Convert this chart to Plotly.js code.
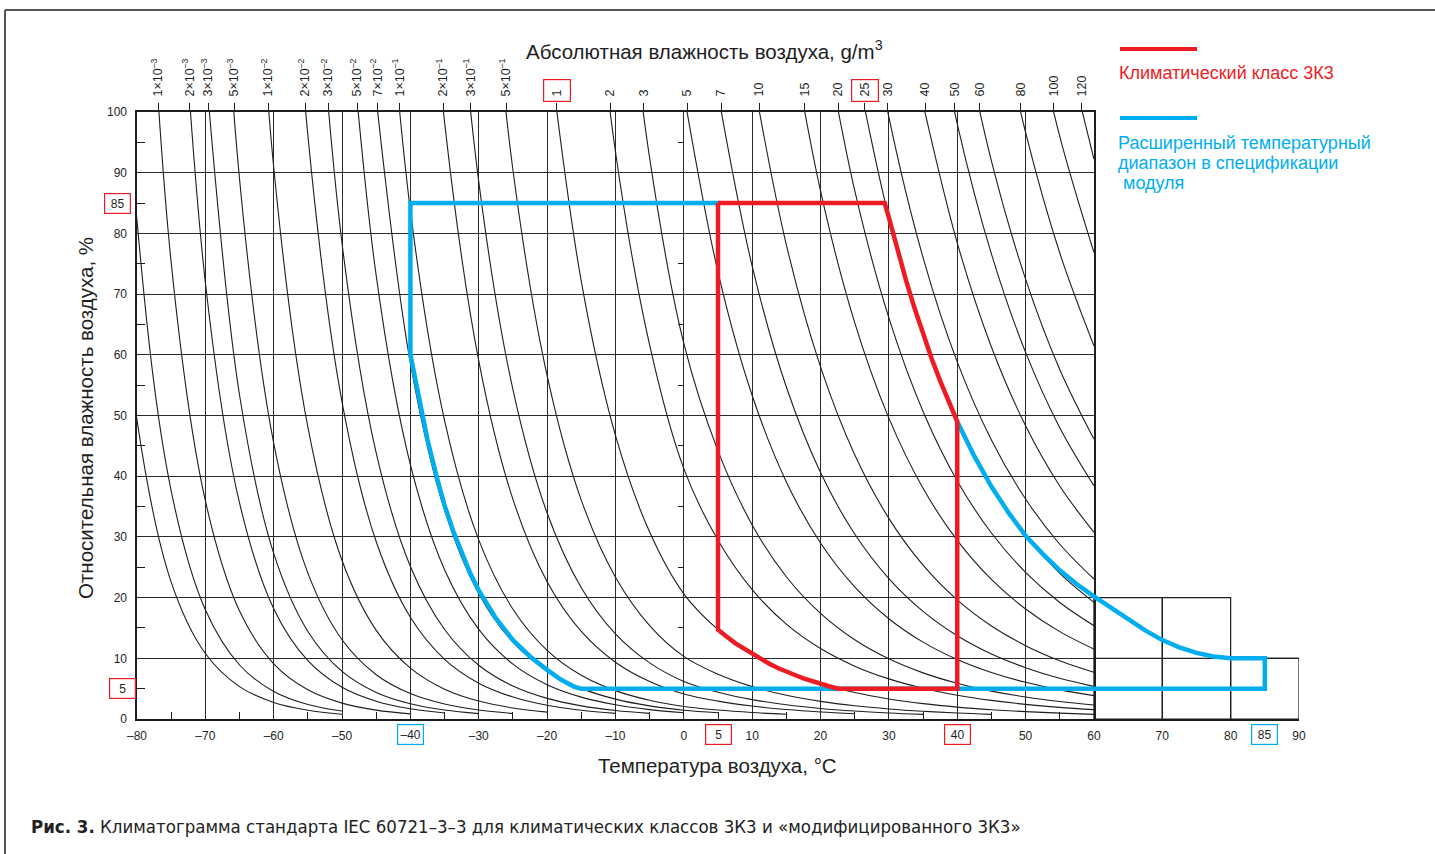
<!DOCTYPE html>
<html><head><meta charset="utf-8">
<script src="https://cdn.plot.ly/plotly-3.0.1.min.js"></script>
<style>html,body{margin:0;padding:0;background:#fff;} #chart{width:1435px;height:854px;}</style>
</head><body><div id="chart"></div>
<script>
// ---- Data ----
// Saturated absolute humidity of air (g/m3) vs temperature (°C)
const satTemps = [-85,-80,-75,-70,-65,-60,-55,-50,-45,-40,-35,-30,-25,-20,-15,-10,-5,0,5,10,15,20,25,30,35,40,45,50,55,60];
const satDensity = [0.000268,0.000609,0.00133,0.00278,0.00562,0.0110,0.0208,0.0383,0.0685,0.1194,0.2034,0.3389,0.5528,0.8839,1.387,2.140,3.247,4.849,6.792,9.383,12.80,17.24,22.97,30.26,39.47,50.99,65.26,82.79,104.2,130.1];
// Absolute humidity isolines (g/m3)
const isoValues = [0.0003,0.0005,0.001,0.002,0.003,0.005,0.01,0.02,0.03,0.05,0.07,0.1,0.2,0.3,0.5,1,2,3,5,7,10,15,20,25,30,40,50,60,80,100,120];
// Top scale: where each labelled isoline meets 100 %
const topTemps = [-76.9,-72.3,-69.6,-65.8,-60.8,-55.4,-52.0,-47.8,-44.8,-41.6,-35.2,-31.2,-26.0,-18.6,-10.8,-5.9,0.5,5.5,11.0,17.7,22.6,26.5,29.8,35.3,39.6,43.3,49.3,54.1,58.2];
const topLabels = ['1×10<sup>–3</sup>','2×10<sup>–3</sup>','3×10<sup>–3</sup>','5×10<sup>–3</sup>','1×10<sup>–2</sup>','2×10<sup>–2</sup>','3×10<sup>–2</sup>','5×10<sup>–2</sup>','7×10<sup>–2</sup>','1×10<sup>–1</sup>','2×10<sup>–1</sup>','3×10<sup>–1</sup>','5×10<sup>–1</sup>','1','2','3','5','7','10','15','20','25','30','40','50','60','80','100','120'];
const topBoxed = ['1','25'];
// Bottom / left scales
const xTickVals = [-80,-70,-60,-50,-40,-30,-20,-10,0,10,20,30,40,50,60,70,80,90];
const xTickLabels = ['–80','–70','–60','–50','–40','–30','–20','–10','0','10','20','30','40','50','60','70','80','90'];
const xMinorVals = [-75,-65,-55,-45,-35,-25,-15,-5,5,15,25,35,45,55];
const boxedXVals = [-40,5,40,85];
const boxedXLabels = ['–40','5','40','85'];
const boxedXClass = ['ext','3k3','3k3','ext'];
const yTickVals = [0,10,20,30,40,50,60,70,80,90,100];
const yTickLabels = ['0','10','20','30','40','50','60','70','80','90','100'];
const yMinorVals = [5,15,25,35,45,55,65,75,85,95];
const boxedYVals = [85,5];
const boxedYLabels = ['85','5'];
// Extension cells beyond 60 °C
const extTemps = [60,70,80,90];
const extTops = [20,20,10];
const extMidLine = 10;
// Climatic class 3K3 boundary
const redT  = [5,29.4,30,31.25,32.5,33.75,35,36.25,37.5,38.75,40,40,22.6,21.25,20,18.75,17.5,16.25,15,13.75,12.5,11.25,10,8.75,7.5,6.25,5,5];
const redRH = [85,85,82.6,77.3,72.3,67.7,63.3,59.4,55.7,52.3,49,5,5,5.4,5.8,6.25,6.7,7.25,7.8,8.4,9.1,9.9,10.7,11.6,12.5,13.6,14.7,85];
// Extended module range boundary
const blueT  = [5,-40,-40,-38.75,-37.5,-36.25,-35,-33.75,-32.5,-31.25,-30,-27.5,-25,-22.5,-20,-19,-18,-17,-16,-15,85,85,80,77.5,75,72.5,70,67.5,65,62.5,60,57.5,55,52.5,50,47.5,45,42.5,40];
const blueRH = [85,85,60,52.6,46,40.3,35.2,31.0,27.3,24.0,21.2,16.6,13.0,10.3,8.1,7.2,6.5,5.9,5.3,5,5,10,10,10.3,10.9,11.8,13.0,14.6,16.4,18.2,20.2,22.2,24.5,27.2,30.2,34,38.3,43.3,49];
const legendRed = 'Климатический класс 3К3';
const legendBlue = ['Расширенный температурный','диапазон в спецификации','\u00a0модуля'];

// ---- Styles ----
const RED = '#ED1C24', BLUE = '#00AEEF', INK = '#1e1e1e';
const FONT = 'Liberation Sans, Arial, sans-serif';
const W = 1435, H = 854, L = 137, R = 136, T = 112, B = 135;
const pw = W - L - R, ph = H - T - B;
const px = v => (v - L) / pw;
const py = v => (H - B - v) / ph;

// ---- Isoline traces ----
const traces = [];
isoValues.forEach(a => {
  const xs = [], ys = [];
  let prev = null, started = false;
  for (let i = 0; i < satTemps.length; i++) {
    const rh = 100 * a / satDensity[i];
    if (!started) {
      if (rh <= 100) {
        if (prev) { xs.push(prev[0]); ys.push(prev[1]); }
        started = true;
      } else { prev = [satTemps[i], rh]; continue; }
    }
    if (rh < 0.75) break;
    xs.push(satTemps[i]); ys.push(rh);
  }
  traces.push({x: xs, y: ys, xaxis: 'x', yaxis: 'y', mode: 'lines', type: 'scatter',
    line: {color: INK, width: 1.1, shape: 'spline', smoothing: 1}, hoverinfo: 'skip', showlegend: false});
});
traces.push({x: blueT, y: blueRH, xaxis: 'x2', yaxis: 'y2', mode: 'lines', type: 'scatter',
  line: {color: BLUE, width: 4.5}, hoverinfo: 'skip', showlegend: false});
traces.push({x: redT, y: redRH, xaxis: 'x2', yaxis: 'y2', mode: 'lines', type: 'scatter',
  line: {color: RED, width: 4.5}, hoverinfo: 'skip', showlegend: false});
traces.push({x: [], y: [], xaxis: 'x3', yaxis: 'y2', type: 'scatter', showlegend: false});
traces.push({x: [], y: [], xaxis: 'x', yaxis: 'y3', type: 'scatter', showlegend: false});

// ---- Shapes ----
const shapes = [];
for (let i = 0; i < extTops.length; i++) {
  shapes.push({type: 'rect', xref: 'x2', yref: 'y2', x0: extTemps[i], x1: extTemps[i+1], y0: 0, y1: extTops[i],
    line: {color: INK, width: 1.2}, layer: 'below'});
}
shapes.push({type: 'line', xref: 'x2', yref: 'y2', x0: extTemps[0], x1: extTemps[extTemps.length-1], y0: extMidLine, y1: extMidLine,
  line: {color: INK, width: 1.2}, layer: 'below'});
// legend samples
shapes.push({type: 'line', xref: 'paper', yref: 'paper', x0: px(1120), x1: px(1197), y0: py(49), y1: py(49), line: {color: RED, width: 4}});
shapes.push({type: 'line', xref: 'paper', yref: 'paper', x0: px(1120), x1: px(1197), y0: py(118), y1: py(118), line: {color: BLUE, width: 4}});
// frame
shapes.push({type: 'line', xref: 'paper', yref: 'paper', x0: px(5), x1: px(1440), y0: py(10), y1: py(10), line: {color: '#555', width: 2}});
shapes.push({type: 'line', xref: 'paper', yref: 'paper', x0: px(5), x1: px(5), y0: py(10), y1: py(860), line: {color: '#555', width: 2}});

// ---- Annotations ----
const ann = [];
const colorOf = c => c === '3k3' ? RED : BLUE;
boxedXVals.forEach((v, i) => {
  ann.push({xref: 'x2', yref: 'paper', x: v, y: 0, xanchor: 'center', yanchor: 'top', yshift: -5, text: boxedXLabels[i], showarrow: false,
    font: {family: FONT, size: 12, color: INK}, bordercolor: colorOf(boxedXClass[i]), borderwidth: 1.2, borderpad: 0, width: 25, height: 19});
});
boxedYVals.forEach((v, i) => {
  ann.push({xref: 'paper', yref: 'y', x: 0, y: v, xanchor: 'right', yanchor: 'middle', xshift: i === 0 ? -6 : -1, text: boxedYLabels[i], showarrow: false,
    font: {family: FONT, size: 12, color: INK}, bordercolor: RED, borderwidth: 1.2, borderpad: 0, width: 25, height: 19});
});
topBoxed.forEach(lbl => {
  const idx = topLabels.indexOf(lbl);
  ann.push({xref: 'x3', yref: 'paper', x: topTemps[idx], y: 1, xanchor: 'center', yanchor: 'bottom', yshift: 10, text: ' ', showarrow: false,
    bordercolor: RED, borderwidth: 1.2, borderpad: 0, width: 26, height: 21});
});
const txt = (x, y, text, opts) => Object.assign({xref: 'paper', yref: 'paper', x: px(x), y: py(y), xanchor: 'center', yanchor: 'middle',
  text: text, showarrow: false}, opts);
ann.push(txt(704, 50, 'Абсолютная влажность воздуха, g/m<sup>3</sup>', {font: {family: FONT, size: 20.5, color: INK}}));
ann.push(txt(717, 765, 'Температура воздуха, °C', {font: {family: FONT, size: 20.5, color: INK}}));
ann.push(txt(85, 418, 'Относительная влажность воздуха, %', {textangle: -90, font: {family: FONT, size: 20.5, color: INK}}));
ann.push(txt(1117, 73, legendRed, {xanchor: 'left', font: {family: FONT, size: 18, color: RED}}));
legendBlue.forEach((line, i) => {
  ann.push(txt(1116, 143 + 20 * i, line, {xanchor: 'left', align: 'left', font: {family: FONT, size: 18, color: BLUE}}));
});
ann.push(txt(29, 826, '<b>Рис. 3.</b> Климатограмма стандарта IEC 60721–3–3 для климатических классов 3К3 и «модифицированного 3К3»',
  {xanchor: 'left', align: 'left', font: {family: 'Liberation Sans Narrow, DejaVu Sans Condensed, Liberation Sans, sans-serif', size: 18.5, color: '#222'}}));

const boxedSet = new Set(boxedXVals);
const layout = {
  width: W, height: H, autosize: false,
  margin: {l: L, r: R, t: T, b: B, pad: 0},
  paper_bgcolor: '#fff', plot_bgcolor: 'rgba(0,0,0,0)',
  font: {family: FONT, color: INK},
  showlegend: false,
  xaxis: {domain: [0, 140/170], range: [-80, 60], anchor: 'y', showgrid: true, gridcolor: '#2a2a2a', gridwidth: 1,
    tickmode: 'linear', tick0: -80, dtick: 10, showticklabels: false, ticks: '', showline: true, linecolor: '#1e1e1e',
    linewidth: 1.6, mirror: true, zeroline: false, fixedrange: true},
  yaxis: {domain: [0, 1], range: [0, 100], anchor: 'x', showgrid: true, gridcolor: '#2a2a2a', gridwidth: 1,
    tickmode: 'array', tickvals: yTickVals, ticktext: yTickLabels, ticks: 'outside', ticklen: 6, tickcolor: 'rgba(0,0,0,0)',
    tickfont: {family: FONT, size: 12, color: INK}, showline: true, linecolor: '#1e1e1e', linewidth: 1.6, mirror: true,
    zeroline: false, fixedrange: true,
    minor: {tickmode: 'array', tickvals: yMinorVals, ticks: 'inside', ticklen: 8, tickcolor: INK, tickwidth: 1, showgrid: false}},
  xaxis2: {domain: [0, 1], range: [-80, 90], anchor: 'y2', showgrid: false, zeroline: false, showline: true, linecolor: '#1a1a1a',
    linewidth: 2, tickmode: 'array', tickvals: xTickVals, ticktext: xTickVals.map((v, i) => boxedSet.has(v) ? '' : xTickLabels[i]),
    ticks: 'outside', ticklen: 5, tickcolor: 'rgba(0,0,0,0)', tickfont: {family: FONT, size: 12, color: INK}, fixedrange: true,
    minor: {tickmode: 'array', tickvals: xMinorVals, ticks: 'inside', ticklen: 7, tickcolor: INK, tickwidth: 1, showgrid: false}},
  yaxis2: {domain: [0, 1], range: [0, 100], anchor: 'x2', visible: false, fixedrange: true},
  xaxis3: {overlaying: 'x2', side: 'top', anchor: 'y2', range: [-80, 90], tickmode: 'array', tickvals: topTemps, ticktext: topLabels,
    tickangle: -90, ticks: 'outside', ticklen: 8, tickcolor: INK, tickwidth: 1, showline: false, showgrid: false, zeroline: false,
    ticklabelstandoff: 4, tickfont: {family: FONT, size: 12.5, color: INK}, fixedrange: true},
  yaxis3: {overlaying: 'y', anchor: 'free', position: 80/170, side: 'left', range: [0, 100], tickmode: 'array', tickvals: yMinorVals,
    ticks: 'outside', ticklen: 6, tickcolor: INK, tickwidth: 1, showticklabels: false, showgrid: false, showline: false, zeroline: false, fixedrange: true},
  shapes: shapes,
  annotations: ann
};
Plotly.newPlot('chart', traces, layout, {staticPlot: true, displayModeBar: false});
</script></body></html>
